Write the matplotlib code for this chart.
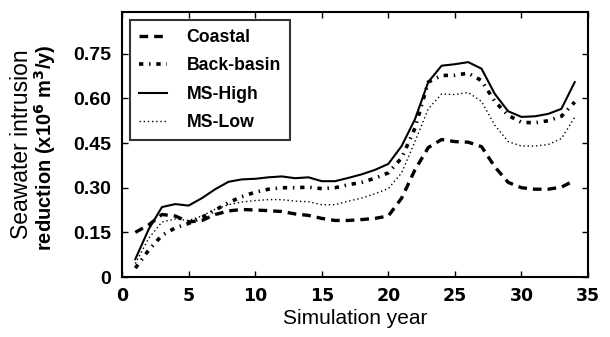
import matplotlib
matplotlib.use("Agg")
import matplotlib.pyplot as plt
import numpy as np

years = list(range(1, 35))
coastal = [0.15, 0.175, 0.21, 0.205, 0.185, 0.19, 0.21, 0.222, 0.227, 0.225,
           0.223, 0.22, 0.212, 0.207, 0.197, 0.19, 0.19, 0.193, 0.197, 0.205,
           0.265, 0.36, 0.435, 0.462, 0.455, 0.453, 0.438, 0.37, 0.318, 0.30,
           0.295, 0.295, 0.302, 0.325]
back_basin = [0.03, 0.09, 0.14, 0.165, 0.18, 0.20, 0.225, 0.25, 0.27, 0.285,
              0.295, 0.30, 0.30, 0.302, 0.297, 0.30, 0.31, 0.318, 0.332, 0.35,
              0.40, 0.50, 0.655, 0.677, 0.678, 0.685, 0.66, 0.59, 0.543, 0.52,
              0.518, 0.525, 0.54, 0.588]
ms_high = [0.06, 0.16, 0.235, 0.245, 0.24, 0.265, 0.295, 0.32, 0.328, 0.33,
           0.335, 0.338, 0.332, 0.335, 0.322, 0.322, 0.333, 0.345, 0.36, 0.38,
           0.44, 0.53, 0.655, 0.71, 0.715, 0.722, 0.70, 0.615, 0.557, 0.538,
           0.54, 0.548, 0.565, 0.655]
ms_low = [0.045, 0.13, 0.185, 0.195, 0.19, 0.205, 0.228, 0.243, 0.252, 0.257,
          0.26, 0.26, 0.255, 0.253, 0.243, 0.243, 0.255, 0.265, 0.28, 0.297,
          0.35, 0.455, 0.565, 0.615, 0.613, 0.62, 0.59, 0.51, 0.455, 0.44,
          0.44, 0.445, 0.465, 0.537]

xticks = [0, 5, 10, 15, 20, 25, 30, 35]
yticks = [0, 0.15, 0.30, 0.45, 0.60, 0.75]
ytick_labels = ["0", "0.15", "0.30", "0.45", "0.60", "0.75"]

plt.rcParams['font.family'] = ['Liberation Sans', 'DejaVu Sans']

fig = plt.figure(figsize=(6.1, 3.37), dpi=100)
ax = fig.add_axes([0.2, 0.178, 0.764, 0.786])

ax.plot(years, coastal, color='black', lw=2.4, linestyle=(0, (2.6, 1.8)), label='Coastal')
ax.plot(years, back_basin, color='black', lw=2.6, linestyle=(0, (1.2, 1.6, 0.4, 1.6)), label='Back-basin')
ax.plot(years, ms_high, color='black', lw=1.5, linestyle='-', label='MS-High')
ax.plot(years, ms_low, color='black', lw=1.0, linestyle=(0, (1, 2)), label='MS-Low')

ax.set_xlim(0, 35)
ax.set_ylim(0, 0.89)
ax.set_xticks(xticks)
ax.set_yticks(yticks)
ax.set_yticklabels(ytick_labels)
ax.tick_params(direction='in', length=4, width=1, top=True, right=True)
ax.tick_params(axis='y', labelsize=14, pad=8)
ax.tick_params(axis='x', labelsize=12.5, pad=7)
for lab in ax.get_yticklabels():
    lab.set_fontweight('bold')
for lab in ax.get_xticklabels():
    lab.set_fontweight('bold')
    lab.set_family('DejaVu Sans')
for s in ax.spines.values():
    s.set_linewidth(1.5)

ax.set_xlabel('Simulation year', fontsize=15, labelpad=3)
fig.text(0.036, 0.572, 'Seawater intrusion', rotation=90, ha='center', va='center', fontsize=16.5)
fig.text(0.074, 0.562, 'reduction (x10$^{\\mathbf{6}}$ m$^{\\mathbf{3}}$/y)', rotation=90,
         ha='center', va='center', fontsize=14.5, fontweight='bold')

leg = ax.legend(loc='upper left', fontsize=12.7, frameon=True, fancybox=False,
                edgecolor='black', handlelength=1.6, borderpad=0.5,
                labelspacing=0.65, handletextpad=1.1, borderaxespad=0.45)
leg.get_frame().set_linewidth(1.5)
for t in leg.get_texts():
    t.set_fontweight('bold')

fig.savefig('out.png', dpi=100)
